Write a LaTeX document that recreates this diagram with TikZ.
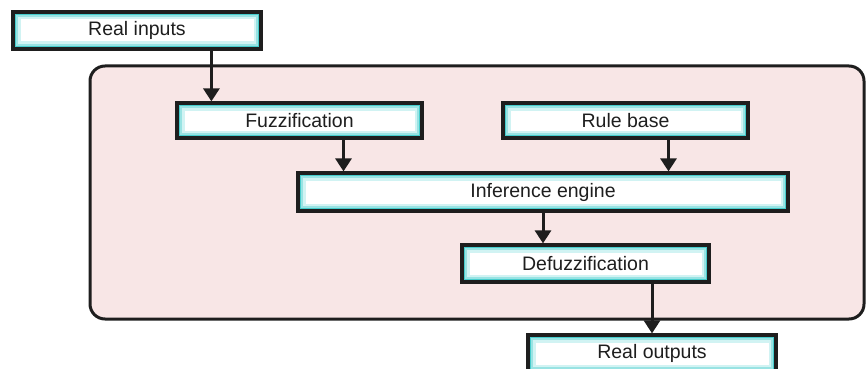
\documentclass[tikz,border=0pt]{standalone}
\usepackage{fontspec}
\setmainfont{Liberation Sans}
\usetikzlibrary{arrows.meta}
\definecolor{glow}{RGB}{70,205,205}
\definecolor{panel}{RGB}{248,230,230}
\definecolor{ink}{RGB}{30,30,30}
\begin{document}
\begin{tikzpicture}[x=1pt,y=-1pt,
  stage/.style={draw=ink,line width=3.2pt,fill=white,inner sep=0pt,
    text=ink,font=\fontsize{19.5}{23}\selectfont,
    path picture={
      \draw[glow!25,line width=15pt] (path picture bounding box.south west) rectangle (path picture bounding box.north east);
      \draw[glow!55,line width=10pt] (path picture bounding box.south west) rectangle (path picture bounding box.north east);
      \draw[glow,line width=6pt] (path picture bounding box.south west) rectangle (path picture bounding box.north east);
    }},
  flow/.style={draw=ink,line width=3pt,-{Triangle[length=13pt,width=16pt]}}]
\useasboundingbox (0,0) rectangle (867,369);
% pink panel round the fuzzy system
\draw[ink,fill=panel,line width=3pt,rounded corners=15pt] (90,66) rectangle (864,319);
% stages
\node[stage,minimum width=248pt,minimum height=37pt] (inputs) at (137,30.5) {Real inputs};
\node[stage,minimum width=245pt,minimum height=35pt] (fuzz) at (299.5,120.5) {Fuzzification};
\node[stage,minimum width=245pt,minimum height=35pt] (rules) at (625.5,120.5) {Rule base};
\node[stage,minimum width=490pt,minimum height=38pt] (infer) at (543,192) {Inference engine};
\node[stage,minimum width=247pt,minimum height=37pt] (defuzz) at (585.5,263.5) {Defuzzification};
\node[stage,minimum width=248pt,minimum height=37pt] (outputs) at (652,353.5) {Real outputs};
% arrows
\draw[flow] ([xshift=36pt]fuzz.north west |- inputs.south) -- ([xshift=36pt]fuzz.north west);
\draw[flow] ([xshift=44pt]fuzz.south) -- ([xshift=44pt]fuzz.south |- infer.north);
\draw[flow] ([xshift=43pt]rules.south) -- ([xshift=43pt]rules.south |- infer.north);
\draw[flow] (infer.south) -- (infer.south |- defuzz.north);
\draw[flow] (outputs.north |- defuzz.south) -- (outputs.north);
\end{tikzpicture}
\end{document}
